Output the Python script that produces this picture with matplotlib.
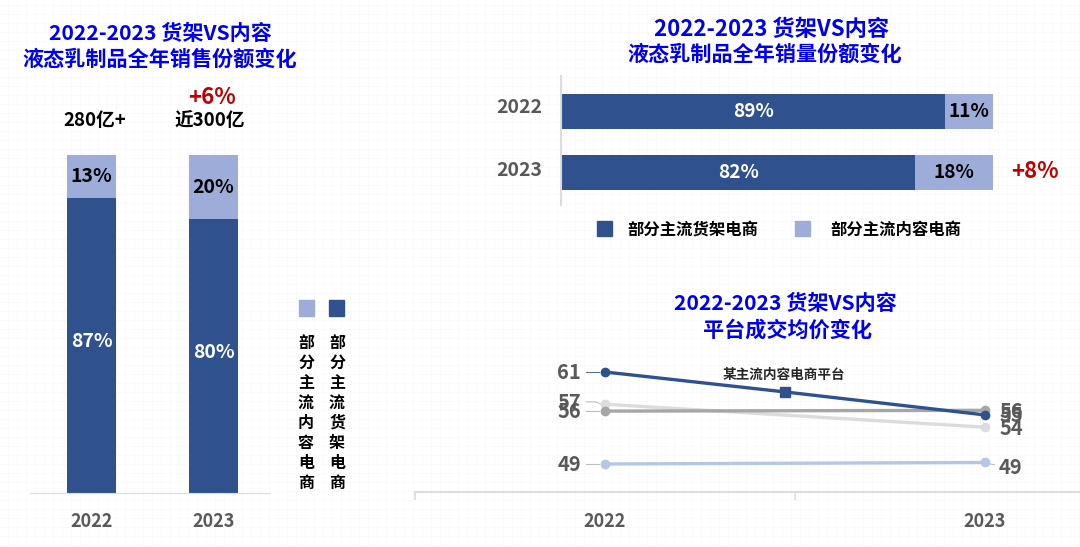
import numpy as np
import matplotlib
matplotlib.use('Agg')
import matplotlib.pyplot as plt

plt.rcParams['font.family'] = ['Noto Sans CJK SC', 'DejaVu Sans']

W, H = 1080, 547

# 左图 销售份额（柱高按图上量取，标签按图上文字）
sales_years = ['2022', '2023']
sales_shelf = [87.3, 81]
sales_content = [12.7, 19]
sales_shelf_labels = ['87%', '80%']
sales_content_labels = ['13%', '20%']
sales_totals = ['280亿+', '近300亿']

# 右上 销量份额
volume_years = ['2022', '2023']
volume_shelf = [89, 82]
volume_content = [11, 18]

# 右下 成交均价
price_x = [0, 0.947, 2]
price_xlabels = ['2022', '2023']
price_main = [61, 58.4, 55.4]
price_a = [56.8, 53.8]
price_b = [55.9, 56]
price_c = [49, 49.2]

DARK = '#2f528f'
LIGHT = '#9eacd9'
BLUE = '#0000f0'
RED = '#c00000'
GREY = '#595959'
AXIS = '#dcdcdc'


def px_axes(fig, x0, y0, x1, y1):
    # 像素坐标 -> figure 坐标
    return fig.add_axes([x0 / W, 1 - y1 / H, (x1 - x0) / W, (y1 - y0) / H])


def ftext(x, y, s, size, color='black', weight='bold', ha='center', va='center'):
    fig.text(x / W, 1 - y / H, s, fontsize=size, color=color, fontweight=weight, ha=ha, va=va)


fig = plt.figure(figsize=(W / 100, H / 100), dpi=100)

# 背景淡网格
bg = fig.add_axes([0, 0, 1, 1], zorder=-1)
bg.set_xlim(0, W)
bg.set_ylim(H, 0)
bg.set_xticks(np.arange(7.5, W, 9))
bg.set_yticks(np.arange(4.5, H, 9))
bg.grid(color='#fafafa', lw=0.7)
bg.tick_params(length=0, labelbottom=False, labelleft=False)
for s in bg.spines.values():
    s.set_visible(False)

# 左图
ax = px_axes(fig, 30, 155, 270, 493)
xs = np.arange(2)
ax.bar(xs, sales_shelf, width=0.402, color=DARK)
ax.bar(xs, sales_content, width=0.402, bottom=sales_shelf, color=LIGHT)
for i in xs:
    ax.text(i, sales_shelf[i] / 2 + 1.2, sales_shelf_labels[i], color='white', fontsize=14,
            fontweight='bold', ha='center', va='center')
    ax.text(i, sales_shelf[i] + sales_content[i] / 2, sales_content_labels[i], color='black', fontsize=14,
            fontweight='bold', ha='center', va='center')
ax.set_xlim(-0.504, 1.463)
ax.set_ylim(0, 100)
ax.set_yticks([])
ax.set_xticks(xs, sales_years)
ax.tick_params(axis='x', length=0, labelsize=13, labelcolor=GREY, pad=14)
for l in ax.get_xticklabels():
    l.set_fontweight('bold')
for s in ['top', 'left', 'right']:
    ax.spines[s].set_visible(False)
ax.spines['bottom'].set_color(AXIS)
ax.patch.set_alpha(0)

ftext(160, 33, '2022-2023 货架VS内容', 15.2, BLUE)
ftext(160, 59, '液态乳制品全年销售份额变化', 15.2, BLUE)
ftext(95, 120, sales_totals[0], 13.4)
ftext(210, 120, sales_totals[1], 13.4)
ftext(212, 97, '+6%', 16, RED)

# 竖排图例
fig.patches.append(plt.Rectangle((299 / W, 1 - 316 / H), 15 / W, 16 / H, color=LIGHT, transform=fig.transFigure))
fig.patches.append(plt.Rectangle((329 / W, 1 - 316 / H), 15 / W, 16 / H, color=DARK, transform=fig.transFigure))
for i, (a, b) in enumerate(zip('部分主流内容电商', '部分主流货架电商')):
    ftext(306, 343 + i * 20, a, 11.5)
    ftext(337, 343 + i * 20, b, 11.5)

# 右上
ax = px_axes(fig, 561, 76, 993, 205)
ys = np.arange(2)
ax.barh(ys, volume_shelf, height=0.574, color=DARK)
ax.barh(ys, volume_content, height=0.574, left=volume_shelf, color=LIGHT)
for i in ys:
    ax.text(volume_shelf[i] / 2, i, f'{volume_shelf[i]}%', color='white', fontsize=13.7,
            fontweight='bold', ha='center', va='center')
    ax.text(volume_shelf[i] + volume_content[i] / 2, i, f'{volume_content[i]}%', color='black', fontsize=13.7,
            fontweight='bold', ha='center', va='center')
ax.set_xlim(0, 100)
ax.set_ylim(1.533, -0.582)
ax.set_xticks([])
ax.set_yticks([])
for i, off in zip(ys, [-0.06, -0.025]):
    ax.text(-4.4, i + off, volume_years[i], fontsize=14, fontweight='bold', color=GREY, ha='right', va='center')
for s in ['top', 'bottom', 'right']:
    ax.spines[s].set_visible(False)
ax.spines['left'].set_color(AXIS)
ax.spines['left'].set_linewidth(1.5)
ax.patch.set_alpha(0)

ftext(771.5, 30, '2022-2023 货架VS内容', 16, BLUE)
ftext(765, 54, '液态乳制品全年销量份额变化', 15.2, BLUE)
ftext(1035, 171, '+8%', 16, RED)

fig.patches.append(plt.Rectangle((597 / W, 1 - 236 / H), 15 / W, 15 / H, color=DARK, transform=fig.transFigure))
fig.patches.append(plt.Rectangle((795 / W, 1 - 236 / H), 15 / W, 15 / H, color=LIGHT, transform=fig.transFigure))
ftext(627, 230, '部分主流货架电商', 11.8, ha='left')
ftext(830, 230, '部分主流内容电商', 11.8, ha='left')

# 右下
ax = px_axes(fig, 415, 350, 1080, 492)
ppu = 92 / 12
ax.set_xticks([-1, 1])
ax.set_xticklabels([])
ax.tick_params(axis='x', length=5.5, width=1.2, color=AXIS)
ax.set_xlim(-1, 2.5)
ax.set_ylim(49 - 28 / ppu, 61 + 22 / ppu)

# 引导线
leader = '#bfbfbf'
ax.plot([-0.1, -0.03], [61, 61], color=DARK, lw=0.6)
ax.plot([-0.1, -0.05, -0.02], [57.1, 57.1, 56.8], color=leader, lw=0.8)
ax.plot([-0.1, -0.03], [55.9, 55.9], color=leader, lw=0.8)
ax.plot([-0.1, -0.03], [49, 49], color=leader, lw=0.8)
ax.plot([2.01, 2.05], [49.1, 48.9], color=leader, lw=0.8)

ax.plot([0, 2], price_a, color='#dcdcdc', lw=2.4, marker='o', ms=6)
ax.plot([0, 2], price_b, color='#a6a6a6', lw=2.4, marker='o', ms=6)
ax.plot([0, 2], price_c, color='#b4c7e7', lw=2.4, marker='o', ms=6)
ax.plot(price_x, price_main, color=DARK, lw=2.4)
ax.plot([price_x[0], price_x[2]], [price_main[0], price_main[2]], 'o', color=DARK, ms=6)
ax.plot([price_x[1]], [price_main[1]], 's', color=DARK, ms=6.7)
ax.text(0.942, 60.6, '某主流内容电商平台', fontsize=9.8, fontweight='bold', ha='center', va='center', color='#262626')

for val, txt in [(61, '61'), (57, '57'), (55.8, '56'), (49, '49')]:
    ax.text(-0.126, val, txt, fontsize=14.5, fontweight='bold', color=GREY, ha='right', va='center')
for val, txt in [(55.9, '56'), (55.3, '55'), (53.6, '54'), (48.6, '49')]:
    ax.text(0.074 + 2, val, txt, fontsize=14.5, fontweight='bold', color=GREY, ha='left', va='center')

ax.text(0, 45.35 - 3.9, price_xlabels[0], fontsize=13, fontweight='bold', color=GREY, ha='center', va='center')
ax.text(2, 45.35 - 3.9, price_xlabels[1], fontsize=13, fontweight='bold', color=GREY, ha='center', va='center')
ax.set_yticks([])
for s in ['top', 'left', 'right']:
    ax.spines[s].set_visible(False)
ax.spines['bottom'].set_color(AXIS)
ax.spines['bottom'].set_linewidth(1.5)
ax.patch.set_alpha(0)

ftext(785, 304, '2022-2023 货架VS内容', 15.2, BLUE)
ftext(787, 330, '平台成交均价变化', 15.2, BLUE)

fig.savefig('out.png', dpi=100)
